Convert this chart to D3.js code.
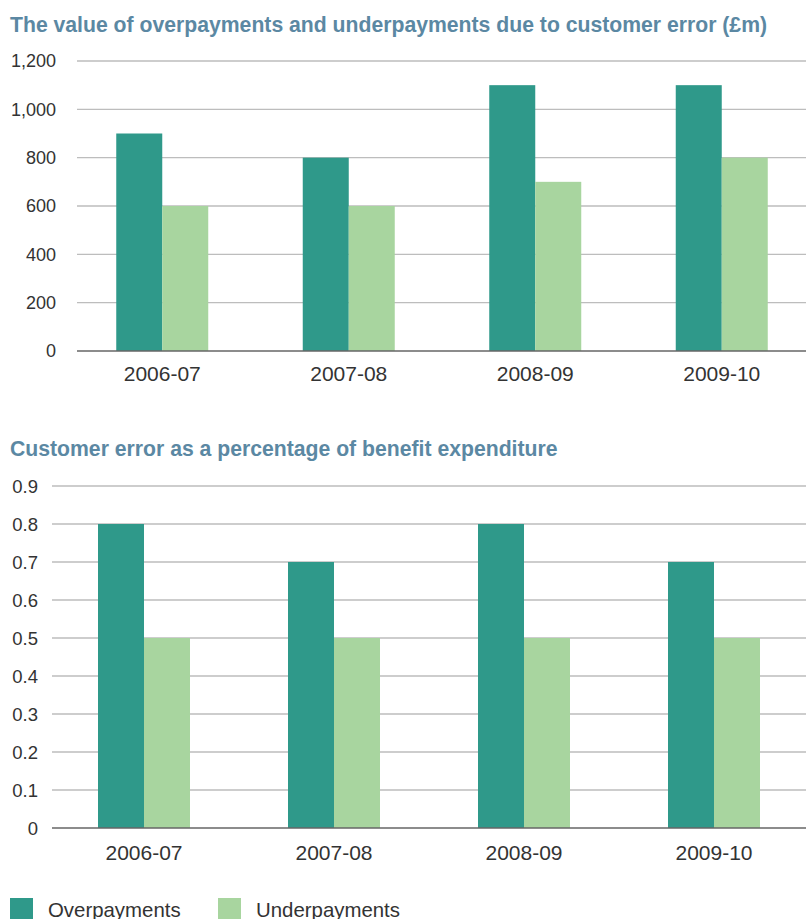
<!DOCTYPE html>
<html>
<head>
<meta charset="utf-8">
<script src="https://cdn.jsdelivr.net/npm/d3@7"></script>
<style>
  html, body { margin: 0; padding: 0; background: #fff; }
  svg { display: block; }
  text { font-family: "Liberation Sans", Arial, Helvetica, sans-serif; }
</style>
</head>
<body>
<svg id="chart" width="806" height="919"></svg>
<script>
// Financial years shown on both panels
const years = ["2006-07", "2007-08", "2008-09", "2009-10"];

// Panel 1: value of customer error (£m)
const overValue = [900, 800, 1100, 1100];
const underValue = [600, 600, 700, 800];
const valueTicks = [0, 200, 400, 600, 800, 1000, 1200];

// Panel 2: customer error as % of benefit expenditure
const overPct = [0.8, 0.7, 0.8, 0.7];
const underPct = [0.5, 0.5, 0.5, 0.5];
const pctTicks = [0, 0.1, 0.2, 0.3, 0.4, 0.5, 0.6, 0.7, 0.8, 0.9];

const seriesNames = ["Overpayments", "Underpayments"];
const colors = { Overpayments: "#2f998a", Underpayments: "#a8d59f" };

const svg = d3.select("#chart");

function panel(opts) {
  const g = svg.append("g");
  const x = d3.scaleBand().domain(years).range([opts.x0, opts.x1]).paddingInner(0).paddingOuter(0);
  const y = d3.scaleLinear().domain([0, d3.max(opts.ticks)]).range([opts.yBottom, opts.yTop]);

  g.append("text")
    .attr("x", 10).attr("y", opts.titleY)
    .attr("fill", "#5b88a3")
    .attr("font-size", 21.2)
    .attr("font-weight", "bold")
    .text(opts.title);

  // gridlines
  g.selectAll("line.grid").data(opts.ticks.filter(t => t !== 0)).join("line")
    .attr("x1", opts.gridX0).attr("x2", 806)
    .attr("y1", d => y(d)).attr("y2", d => y(d))
    .attr("stroke", "#bdbdbd").attr("stroke-width", 1.4);

  // y tick labels
  g.selectAll("text.tick").data(opts.ticks).join("text")
    .attr("x", opts.labelX).attr("y", d => y(d))
    .attr("dy", "0.36em")
    .attr("text-anchor", "end")
    .attr("fill", "#333")
    .attr("font-size", opts.tickSize)
    .text(opts.fmt);

  const data = years.map((yr, i) => ({ yr, vals: [opts.over[i], opts.under[i]] }));
  const groups = g.selectAll("g.grp").data(data).join("g");
  groups.selectAll("rect").data(d => d.vals.map((v, k) => ({ yr: d.yr, v, k }))).join("rect")
    .attr("x", d => x(d.yr) + x.bandwidth() / 2 - opts.barW + d.k * opts.barW)
    .attr("width", opts.barW)
    .attr("y", d => y(d.v))
    .attr("height", d => y(0) - y(d.v))
    .attr("fill", d => colors[seriesNames[d.k]]);

  // baseline
  g.append("line")
    .attr("x1", opts.gridX0).attr("x2", 806)
    .attr("y1", y(0)).attr("y2", y(0))
    .attr("stroke", "#666").attr("stroke-width", 1.5);

  // category labels
  g.selectAll("text.cat").data(years).join("text")
    .attr("x", d => x(d) + x.bandwidth() / 2)
    .attr("y", opts.catY)
    .attr("text-anchor", "middle")
    .attr("fill", "#333")
    .attr("font-size", 21)
    .text(d => d);
}

panel({
  title: "The value of overpayments and underpayments due to customer error (£m)",
  titleY: 32,
  ticks: valueTicks,
  over: overValue, under: underValue,
  yTop: 61, yBottom: 351,
  x0: 69, x1: 815,
  gridX0: 77, labelX: 56, tickSize: 18,
  barW: 46, catY: 381,
  fmt: d3.format(",")
});

panel({
  title: "Customer error as a percentage of benefit expenditure",
  titleY: 456,
  ticks: pctTicks,
  over: overPct, under: underPct,
  yTop: 486, yBottom: 828,
  x0: 49, x1: 809,
  gridX0: 52, labelX: 38, tickSize: 18.5,
  barW: 46, catY: 860,
  fmt: d => d === 0 ? "0" : d3.format(".1f")(d)
});

// legend
const legend = svg.append("g");
const legendX = [10, 218];
seriesNames.forEach((name, i) => {
  legend.append("rect")
    .attr("x", legendX[i]).attr("y", 898)
    .attr("width", 23).attr("height", 23)
    .attr("fill", colors[name]);
  legend.append("text")
    .attr("x", legendX[i] + 38).attr("y", 917)
    .attr("fill", "#333")
    .attr("font-size", 20.4)
    .text(name);
});
</script>
</body>
</html>
